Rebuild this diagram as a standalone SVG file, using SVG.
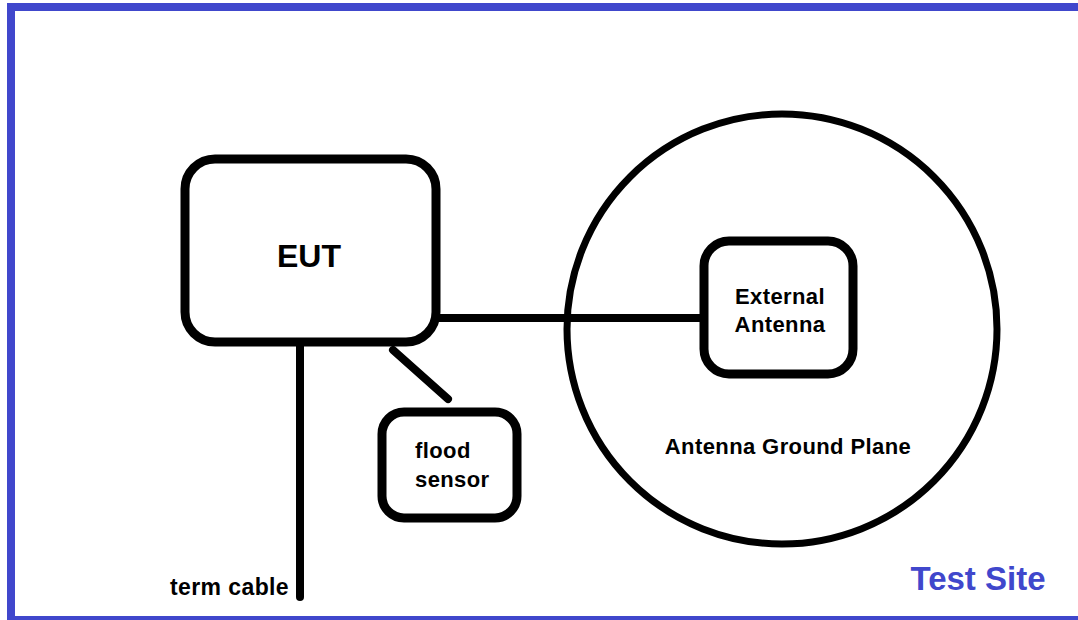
<svg xmlns="http://www.w3.org/2000/svg" width="1078" height="620" viewBox="0 0 1078 620">
<style>
.box{fill:#fff;stroke:#000;stroke-width:9}
.wire{stroke:#000;stroke-width:8;stroke-linecap:round;fill:none}
.lbl{font-family:"Liberation Sans",Arial,sans-serif;font-weight:bold;font-size:22px;letter-spacing:0.4px;fill:#000}
</style>
<rect x="0" y="0" width="1078" height="620" fill="#fff"/>
<rect id="border" x="11" y="7" width="1100" height="613" fill="none" stroke="#4047CC" stroke-width="8"/>
<g id="ground-plane">
<circle cx="782" cy="329" r="215" fill="none" stroke="#000" stroke-width="7"/>
<text class="lbl" x="788" y="454" text-anchor="middle">Antenna Ground Plane</text>
</g>
<g id="connectors">
<line class="wire" x1="436" y1="318" x2="704" y2="318"/>
<line class="wire" x1="300" y1="342" x2="300" y2="597"/>
<line class="wire" x1="393" y1="350" x2="448" y2="399"/>
</g>
<g id="eut">
<rect class="box" x="185" y="159" width="251" height="183" rx="30"/>
<text class="lbl" x="309" y="267" text-anchor="middle" style="font-size:32px;letter-spacing:0">EUT</text>
</g>
<g id="flood-sensor">
<rect class="box" x="382" y="412" width="135" height="106" rx="22"/>
<text class="lbl" x="415" y="458">flood</text>
<text class="lbl" x="415" y="487">sensor</text>
</g>
<g id="external-antenna">
<rect class="box" x="704" y="241" width="149" height="133" rx="25"/>
<text class="lbl" x="780" y="304" text-anchor="middle">External</text>
<text class="lbl" x="780" y="332" text-anchor="middle">Antenna</text>
</g>
<g id="term-cable-label">
<text class="lbl" x="170" y="595" style="font-size:23px">term cable</text>
</g>
<g id="test-site-label">
<text x="978" y="590" text-anchor="middle" font-family="Liberation Sans, Arial, sans-serif" font-weight="bold" font-size="33" fill="#4047CC">Test Site</text>
</g>
</svg>
